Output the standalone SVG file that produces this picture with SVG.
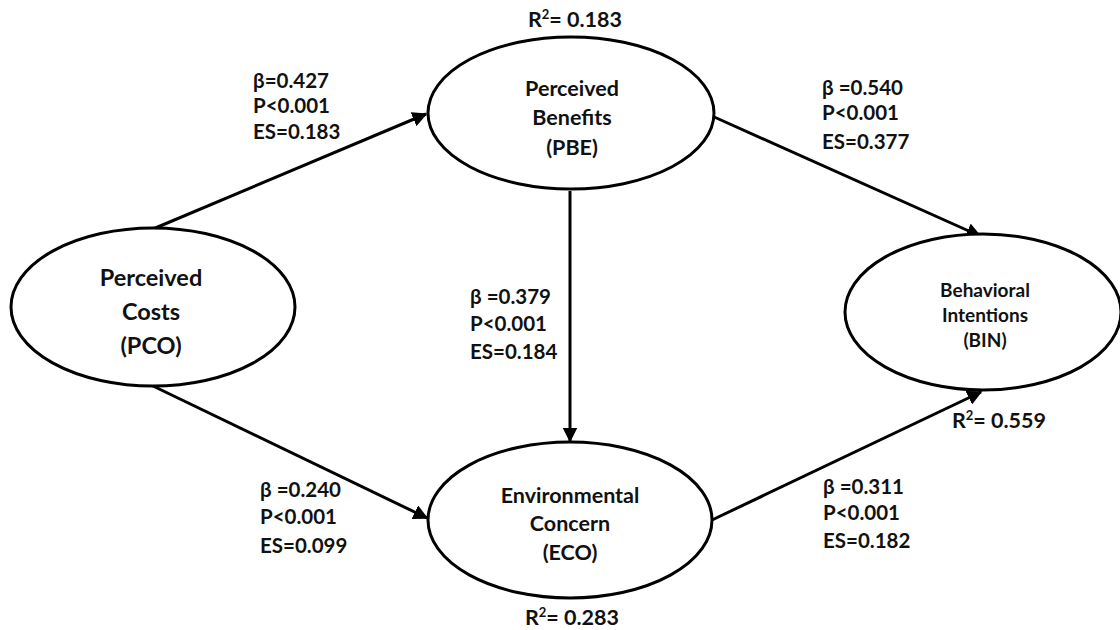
<svg xmlns="http://www.w3.org/2000/svg" width="1120" height="630" viewBox="0 0 1120 630">
<style>
.n{fill:#fff;stroke:#000;stroke-width:3}
.c{stroke:#000;stroke-width:3;fill:none;marker-end:url(#ah)}
text{font-family:Lato,"Open Sans","Liberation Sans",sans-serif;font-weight:bold;fill:#111}
.lab{font-size:20.5px}
.nt{text-anchor:middle;font-size:21.5px}
</style>
<defs>
<marker id="ah" viewBox="0 0 10 10" refX="9" refY="5" markerWidth="5" markerHeight="5" orient="auto" markerUnits="strokeWidth">
<path d="M0,0 L10,5 L0,10 z" fill="#000"/>
</marker>
</defs>
<g id="connectors">
<line class="c" x1="153" y1="229" x2="426" y2="114"/>
<line class="c" x1="153" y1="386" x2="427" y2="518"/>
<line class="c" x1="712" y1="116" x2="980" y2="236"/>
<line class="c" x1="570" y1="191" x2="570" y2="441"/>
<line class="c" x1="712" y1="520" x2="981" y2="392"/>
</g>
<g id="PBE">
<ellipse class="n" cx="571" cy="113" rx="143" ry="76"/>
<text class="nt" x="572" y="96">Perceived</text>
<text class="nt" x="572" y="125">Benefits</text>
<text class="nt" x="572" y="155">(PBE)</text>
</g>
<g id="PCO">
<ellipse class="n" cx="153" cy="307" rx="142" ry="79"/>
<text class="nt" x="151" y="286" style="font-size:23.5px">Perceived</text>
<text class="nt" x="151" y="320" style="font-size:23.5px">Costs</text>
<text class="nt" x="151" y="354" style="font-size:23.5px">(PCO)</text>
</g>
<g id="BIN">
<ellipse class="n" cx="983" cy="312" rx="138" ry="78"/>
<text class="nt" x="985" y="297" style="font-size:19px">Behavioral</text>
<text class="nt" x="985" y="322" style="font-size:19px">Intentions</text>
<text class="nt" x="985" y="347" style="font-size:19px">(BIN)</text>
</g>
<g id="ECO">
<ellipse class="n" cx="570" cy="520" rx="142" ry="78"/>
<text class="nt" x="570" y="503">Environmental</text>
<text class="nt" x="570" y="531">Concern</text>
<text class="nt" x="570" y="560">(ECO)</text>
</g>
<g id="labels">
<text class="nt" x="575" y="27">R<tspan dy="-8" font-size="13">2</tspan><tspan dy="8">= 0.183</tspan></text>
<text class="nt" x="572" y="625">R<tspan dy="-8" font-size="13">2</tspan><tspan dy="8">= 0.283</tspan></text>
<text class="nt" x="999" y="428">R<tspan dy="-8" font-size="13">2</tspan><tspan dy="8">= 0.559</tspan></text>
<text class="lab" x="253" y="88">β=0.427</text>
<text class="lab" x="253" y="113">P&lt;0.001</text>
<text class="lab" x="253" y="139">ES=0.183</text>
<text class="lab" x="822" y="95">β =0.540</text>
<text class="lab" x="822" y="120">P&lt;0.001</text>
<text class="lab" x="822" y="149">ES=0.377</text>
<text class="lab" x="470" y="304">β =0.379</text>
<text class="lab" x="470" y="331">P&lt;0.001</text>
<text class="lab" x="470" y="359">ES=0.184</text>
<text class="lab" x="260" y="497">β =0.240</text>
<text class="lab" x="260" y="524">P&lt;0.001</text>
<text class="lab" x="260" y="553">ES=0.099</text>
<text class="lab" x="823" y="494">β =0.311</text>
<text class="lab" x="823" y="520">P&lt;0.001</text>
<text class="lab" x="823" y="548">ES=0.182</text>
</g>
</svg>
